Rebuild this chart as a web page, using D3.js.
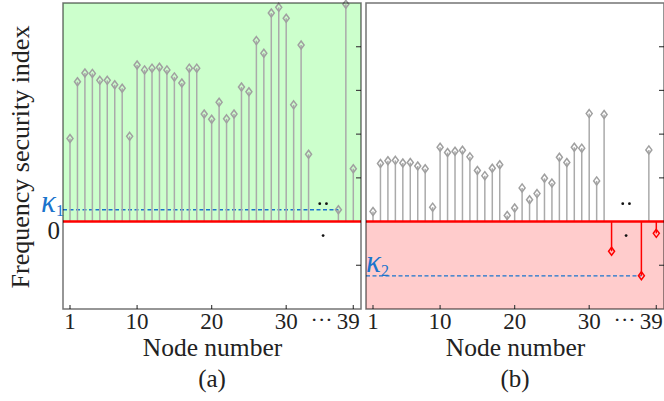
<!DOCTYPE html>
<html><head><meta charset="utf-8">
<script src="https://cdn.jsdelivr.net/npm/d3@7"></script>
<style>html,body{margin:0;padding:0;background:#fff;}svg{display:block;}</style>
</head><body>
<svg id="c" width="664" height="401"></svg>
<script>
// ---- data ----
const nodes = [1,2,3,4,5,6,7,8,9,10,11,12,13,14,15,16,17,18,19,20,21,22,23,24,25,26,27,28,29,30,31,32,33,37,38,39];
const valuesA = [1.90,3.20,3.40,3.39,3.23,3.23,3.13,3.05,1.95,3.58,3.47,3.51,3.53,3.47,3.31,3.17,3.51,3.51,2.46,2.34,
                 2.73,2.35,2.46,3.08,2.97,4.14,3.85,4.77,4.90,4.65,2.67,4.04,1.54,0.27,4.97,1.21];
const valuesB = [0.23,1.33,1.39,1.40,1.34,1.35,1.27,1.21,0.33,1.70,1.58,1.61,1.63,1.48,1.17,1.05,1.22,1.30,0.14,0.31,
                 0.77,0.50,0.64,0.99,0.88,1.47,1.35,1.70,1.68,2.47,0.93,2.45,-0.68,-1.24,1.64,-0.27];
const tickNodes = [1,10,20,30,39];
const tickLabels = ["1","10","20","30","39"];
const yTicks = [-1,1,2,3,4];
const kappaA = 0.27, kappaB = -1.24, kappaNode = 37;
const ellipsisDots = [[34.5,0.41],[35.4,0.41],[34.95,-0.32]];
const panels = [
  {id:"a", left:63, values:valuesA, kappa:kappaA, sub:"1", caption:"(a)", fillPos:"#ccffcc", fillNeg:"#ffffff"},
  {id:"b", left:366, values:valuesB, kappa:kappaB, sub:"2", caption:"(b)", fillPos:"#ffffff", fillNeg:"#ffcccc"}
];

const svg = d3.select("#c");
const W = 298, yTop = 3, yBottom = 309;
const y = d3.scaleLinear().domain([-2,5]).range([yBottom, yTop]);
const serif = "'Liberation Serif','Times New Roman',serif";
const txt = "#222";
const blue = "#1a74cc";

function diamond(g, cx, cy, color){
  const w = 3, h = 4;
  g.append("path")
    .attr("d", `M${cx},${cy-h}L${cx+w},${cy}L${cx},${cy+h}L${cx-w},${cy}Z`)
    .attr("fill","none").attr("stroke",color).attr("stroke-width",1.5);
}

panels.forEach(p => {
  const x = d3.scaleLinear().domain([1,39]).range([p.left+7, p.left+290.3]);
  const g = svg.append("g");
  const y0 = y(0);
  // backgrounds
  g.append("rect").attr("x",p.left).attr("y",yTop).attr("width",W).attr("height",y0-yTop).attr("fill",p.fillPos);
  g.append("rect").attr("x",p.left).attr("y",y0).attr("width",W).attr("height",yBottom-y0).attr("fill",p.fillNeg);

  // kappa dashed line
  g.append("line").attr("x1",p.left).attr("x2",x(kappaNode))
    .attr("y1",y(p.kappa)).attr("y2",y(p.kappa))
    .attr("stroke",blue).attr("stroke-width",1.3).attr("stroke-dasharray","4,2.5");

  // stems
  nodes.forEach((n,i) => {
    const v = p.values[i];
    const col = v < 0 ? "#ff0000" : "#aaaaaa";
    g.append("line").attr("x1",x(n)).attr("x2",x(n)).attr("y1",y0).attr("y2",y(v))
      .attr("stroke",col).attr("stroke-width",1.5);
  });
  // zero line
  g.append("line").attr("x1",p.left).attr("x2",p.left+W).attr("y1",y0).attr("y2",y0)
    .attr("stroke","#ff0000").attr("stroke-width",2.5);
  // markers
  nodes.forEach((n,i) => {
    const v = p.values[i];
    diamond(g, x(n), y(v), v < 0 ? "#ff0000" : "#a0a0a0");
  });
  // ellipsis dots
  ellipsisDots.forEach(d => {
    g.append("circle").attr("cx",x(d[0])).attr("cy",y(d[1])).attr("r",1.4).attr("fill","#111");
  });

  // right-side ticks
  yTicks.forEach(t => {
    g.append("line").attr("x1",p.left+W-5).attr("x2",p.left+W).attr("y1",y(t)).attr("y2",y(t))
      .attr("stroke","#444").attr("stroke-width",1.2);
  });
  // bottom ticks
  tickNodes.forEach(t => {
    g.append("line").attr("x1",x(t)).attr("x2",x(t)).attr("y1",yBottom-4).attr("y2",yBottom)
      .attr("stroke","#444").attr("stroke-width",1.2);
  });
  // frame
  g.append("rect").attr("x",p.left).attr("y",yTop).attr("width",W).attr("height",yBottom-yTop)
    .attr("fill","none").attr("stroke","rgba(0,0,0,0.55)").attr("stroke-width",1.5);

  // tick labels
  tickNodes.forEach((t,i) => {
    g.append("text").attr("x", t===39 ? x(t)-5 : x(t)).attr("y",329)
      .attr("text-anchor","middle").attr("font-family",serif).attr("font-size",23).attr("fill",txt)
      .text(tickLabels[i]);
  });
  g.append("text").attr("x",x(34.75)).attr("y",327).attr("text-anchor","middle")
    .attr("font-family",serif).attr("font-size",22).attr("fill",txt).text("\u00b7\u00b7\u00b7");
  // axis title
  g.append("text").attr("x",p.left+W/2+0.5).attr("y",356).attr("text-anchor","middle")
    .attr("font-family",serif).attr("font-size",25.5).attr("fill",txt).text("Node number");
  g.append("text").attr("x",p.left+W/2).attr("y",387).attr("text-anchor","middle")
    .attr("font-family",serif).attr("font-size",25).attr("fill",txt).text(p.caption);

  // kappa labels
  const kx = p.id === "a" ? 41 : 366;
  const kt = g.append("text").attr("x",kx).attr("y",y(p.kappa)+ (p.id==="a"?2:-4))
    .attr("font-family",serif).attr("font-size",31).attr("fill",blue);
  kt.append("tspan").attr("font-style","italic").text("\u03ba");
  kt.append("tspan").attr("font-size",16).attr("dy",4).text(p.sub);
});

// zero label
svg.append("text").attr("x",60).attr("y",y(0)+17).attr("text-anchor","end")
  .attr("font-family",serif).attr("font-size",25).attr("fill",txt).text("0");
// y title
svg.append("text").attr("transform","translate(29,157) rotate(-90)").attr("text-anchor","middle")
  .attr("font-family",serif).attr("font-size",26).attr("fill",txt).text("Frequency security index");
</script>
</body></html>
